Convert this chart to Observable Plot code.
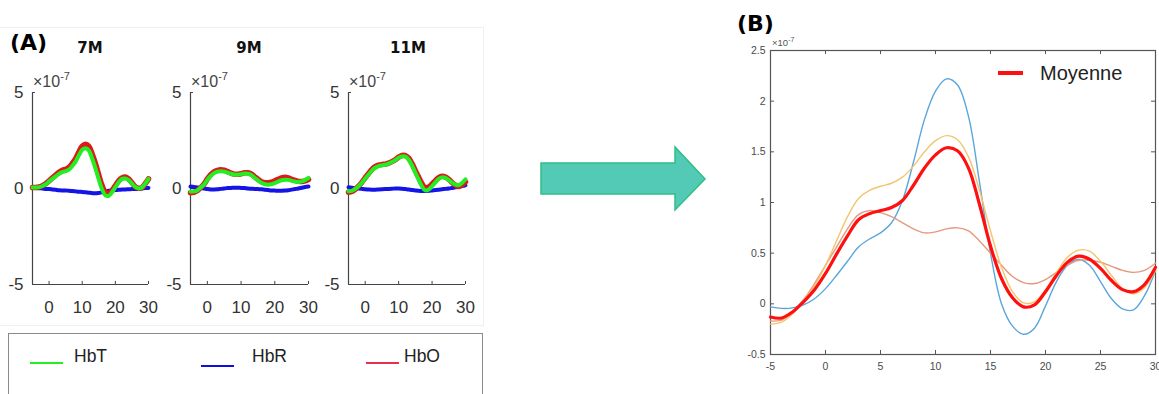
<!DOCTYPE html>
<html>
<head>
<meta charset="utf-8">
<script src="https://cdn.jsdelivr.net/npm/d3@7"></script>
<script src="https://cdn.jsdelivr.net/npm/@observablehq/plot@0.6"></script>
<style>
  html, body { margin: 0; padding: 0; background: #fff; }
  #root { position: relative; width: 1159px; height: 394px; overflow: hidden; background: #fff; font-family: "Liberation Sans", Arial, sans-serif; }
  .abs { position: absolute; }
  .lbl { position: absolute; line-height: 1; white-space: nowrap; }
</style>
</head>
<body>
<div id="root"></div>
<script>
// ---------- shared time grid (s) ----------
const time = [-5,-4,-3,-2,-1,0,1,2,3,4,5,6,7,8,9,10,11,12,13,14,15,16,17,18,19,20,21,22,23,24,25,26,27,28,29,30];

// ---------- Panel A (×1e-7) ----------
const panelTitles = ["7M", "9M", "11M"];
const legendA = ["HbT", "HbR", "HbO"];
const xTicksA = [0, 10, 20, 30];
const yTicksA = [-5, 0, 5];

const hbo7M = [0.05,0.05,0.08,0.15,0.25,0.4,0.55,0.7,0.85,0.95,1.0,1.1,1.3,1.55,1.9,2.2,2.3,2.2,1.8,1.3,0.7,0.15,-0.2,-0.25,-0.1,0.15,0.4,0.55,0.6,0.5,0.3,0.1,0.02,0.05,0.25,0.5];
const hbt7M = [0.05,0.05,0.07,0.13,0.22,0.37,0.5,0.63,0.76,0.85,0.9,0.98,1.17,1.4,1.73,2.02,2.1,1.98,1.56,1.05,0.47,-0.05,-0.36,-0.38,-0.2,0.07,0.33,0.5,0.52,0.44,0.26,0.08,0.0,0.05,0.25,0.5];
const hbr7M = [0.02,0.02,0.01,0.0,-0.02,-0.03,-0.05,-0.07,-0.09,-0.1,-0.1,-0.12,-0.13,-0.15,-0.17,-0.18,-0.2,-0.22,-0.24,-0.25,-0.23,-0.2,-0.16,-0.12,-0.1,-0.08,-0.07,-0.05,-0.05,-0.04,-0.03,-0.02,-0.02,0.0,0.02,0.03];

const hbo9M = [-0.22,-0.2,-0.12,0.05,0.22,0.5,0.72,0.87,0.95,0.98,0.95,0.88,0.8,0.75,0.74,0.77,0.82,0.82,0.76,0.62,0.48,0.36,0.3,0.3,0.33,0.4,0.48,0.55,0.58,0.55,0.48,0.42,0.37,0.36,0.4,0.47];
const hbt9M = [-0.15,-0.15,-0.1,0.05,0.2,0.45,0.65,0.8,0.88,0.9,0.88,0.83,0.77,0.73,0.72,0.74,0.78,0.77,0.7,0.56,0.42,0.3,0.22,0.2,0.22,0.28,0.36,0.43,0.46,0.45,0.4,0.36,0.34,0.37,0.45,0.55];
const hbr9M = [0.1,0.08,0.05,0.02,0.0,-0.03,-0.05,-0.05,-0.04,-0.02,0.0,0.02,0.03,0.04,0.04,0.03,0.02,0.0,-0.01,-0.02,-0.03,-0.04,-0.06,-0.08,-0.1,-0.11,-0.12,-0.12,-0.11,-0.09,-0.06,-0.03,0.0,0.04,0.08,0.1];

const hbo11M = [-0.2,-0.16,-0.04,0.12,0.32,0.56,0.78,0.99,1.14,1.22,1.25,1.27,1.32,1.4,1.5,1.63,1.72,1.72,1.58,1.3,0.93,0.58,0.24,0.04,0.08,0.23,0.41,0.57,0.64,0.6,0.48,0.31,0.17,0.1,0.2,0.35];
const hbt11M = [-0.14,-0.12,-0.02,0.12,0.3,0.52,0.73,0.93,1.08,1.17,1.21,1.24,1.3,1.38,1.48,1.6,1.67,1.66,1.5,1.2,0.82,0.45,0.1,-0.1,-0.05,0.12,0.32,0.5,0.58,0.55,0.44,0.3,0.2,0.18,0.3,0.48];
const hbr11M = [0.06,0.04,0.02,0.0,-0.02,-0.04,-0.05,-0.06,-0.06,-0.05,-0.04,-0.03,-0.02,-0.01,0.0,0.0,-0.01,-0.03,-0.05,-0.08,-0.1,-0.12,-0.13,-0.13,-0.12,-0.1,-0.08,-0.06,-0.04,-0.02,0.0,0.03,0.06,0.1,0.13,0.17];

// ---------- Panel B (×1e-7) ----------
const xTicksB = [-5, 0, 5, 10, 15, 20, 25, 30];
const yTicksB = [-0.5, 0, 0.5, 1, 1.5, 2, 2.5];
const legendB = "Moyenne";
const blueB   = [-0.03,-0.045,-0.04,-0.01,0.05,0.15,0.28,0.42,0.56,0.64,0.7,0.8,1.02,1.4,1.82,2.1,2.22,2.16,1.85,1.2,0.5,0.0,-0.22,-0.3,-0.24,-0.02,0.22,0.38,0.44,0.38,0.22,0.05,-0.05,-0.06,0.08,0.33];
const orangeB = [-0.17,-0.16,-0.08,0.04,0.2,0.38,0.56,0.74,0.88,0.92,0.9,0.86,0.8,0.74,0.7,0.71,0.74,0.75,0.72,0.62,0.5,0.38,0.27,0.21,0.2,0.24,0.31,0.38,0.43,0.43,0.41,0.37,0.33,0.31,0.33,0.4];
const yellowB = [-0.2,-0.18,-0.1,0.03,0.18,0.38,0.62,0.86,1.04,1.12,1.16,1.19,1.25,1.36,1.5,1.61,1.66,1.62,1.45,1.12,0.72,0.36,0.12,0.01,0.02,0.14,0.31,0.46,0.53,0.52,0.42,0.28,0.15,0.1,0.16,0.33];
const meanB   = [-0.13,-0.14,-0.08,0.02,0.14,0.3,0.49,0.67,0.83,0.89,0.92,0.95,1.02,1.17,1.34,1.47,1.54,1.51,1.34,0.98,0.57,0.25,0.06,-0.03,-0.01,0.12,0.28,0.41,0.47,0.44,0.35,0.23,0.14,0.12,0.19,0.36];

// ---------- helpers ----------
const rows = arr => time.map((t, i) => ({t, v: arr[i]}));
const root = document.getElementById("root");
function place(el, left, top) {
  const w = document.createElement("div");
  w.className = "abs";
  w.style.left = left + "px";
  w.style.top = top + "px";
  w.appendChild(el);
  root.appendChild(w);
  return w;
}
function label(html, css) {
  const d = document.createElement("div");
  d.className = "lbl";
  d.innerHTML = html;
  Object.assign(d.style, css);
  root.appendChild(d);
  return d;
}

// faint panel-A frame
label("", {left: "-2px", top: "27px", width: "484px", height: "297px", border: "1px solid #efefef"});

// ---------- Panel A subplots ----------
const colA = {hbt: "#22ee22", hbr: "#1414e6", hbo: "#dd1a1a"};
function subplot(hbo, hbr, hbt, frameW) {
  return Plot.plot({
    width: 40 + frameW + 12, height: 284,
    marginLeft: 40, marginRight: 12, marginTop: 52, marginBottom: 40,
    style: {overflow: "visible", background: "transparent", fontFamily: "'Liberation Sans', Arial, sans-serif", fontSize: "17px", color: "#333"},
    x: {domain: [-5, 30], ticks: xTicksA, tickSize: 0, tickPadding: 16, tickFormat: d => String(d), label: null},
    y: {domain: [-5, 5], ticks: yTicksA, tickSize: 0, tickPadding: 9, tickFormat: d => String(d), label: null},
    marks: [
      Plot.ruleX([-5], {stroke: "#444", strokeWidth: 1.2}),
      Plot.ruleY([-5], {stroke: "#444", strokeWidth: 1.2}),
      Plot.ruleX(xTicksA, {x: d => d, y1: -5, y2: -4.84, stroke: "#444"}),
      Plot.ruleY(yTicksA, {y: d => d, x1: -5, x2: -4.1, stroke: "#444"}),
      Plot.line(rows(hbr), {x: "t", y: "v", stroke: colA.hbr, strokeWidth: 4, curve: "catmull-rom"}),
      Plot.line(rows(hbo), {x: "t", y: "v", stroke: colA.hbo, strokeWidth: 5.5, curve: "catmull-rom"}),
      Plot.line(rows(hbt), {x: "t", y: "v", stroke: colA.hbt, strokeWidth: 4, curve: "catmull-rom"})
    ]
  });
}
const subs = [
  {hbo: hbo7M, hbr: hbr7M, hbt: hbt7M, axis: 32, w: 116, title: panelTitles[0], tc: 90},
  {hbo: hbo9M, hbr: hbr9M, hbt: hbt9M, axis: 190, w: 118, title: panelTitles[1], tc: 249},
  {hbo: hbo11M, hbr: hbr11M, hbt: hbt11M, axis: 348, w: 117, title: panelTitles[2], tc: 408}
];
subs.forEach(s => {
  place(subplot(s.hbo, s.hbr, s.hbt, s.w), s.axis - 40, 40);
  label(s.title, {left: (s.tc - 50) + "px", top: "41px", width: "100px", textAlign: "center", fontFamily: "'DejaVu Sans', sans-serif", fontWeight: "bold", fontSize: "15px", color: "#111"});
  label('×10<span style="font-size:11px;position:relative;top:-7px">-7</span>', {left: (s.axis + 1) + "px", top: "74px", fontSize: "16px", color: "#444"});
});

label("(A)", {left: "10px", top: "32px", fontFamily: "'DejaVu Sans', sans-serif", fontWeight: "bold", fontSize: "22px", color: "#000"});

// Panel A legend
label("", {left: "8px", top: "333px", width: "475px", height: "80px", border: "1.5px solid #8a8a8a", boxSizing: "border-box"});
const legItems = [
  {name: legendA[0], color: "#22ee22", x0: 30, ly: 363, tx: 74},
  {name: legendA[1], color: "#1010dd", x0: 201, ly: 366, tx: 252},
  {name: legendA[2], color: "#e8304a", x0: 366, ly: 363, tx: 404}
];
legItems.forEach(it => {
  label("", {left: it.x0 + "px", top: (it.ly - 1) + "px", width: "33px", height: "2px", background: it.color});
  label(it.name, {left: it.tx + "px", top: "348px", fontSize: "17.5px", color: "#222"});
});

// ---------- Arrow ----------
const ns = "http://www.w3.org/2000/svg";
const arrowSvg = document.createElementNS(ns, "svg");
arrowSvg.setAttribute("width", "200");
arrowSvg.setAttribute("height", "100");
arrowSvg.style.position = "absolute";
arrowSvg.style.left = "520px";
arrowSvg.style.top = "130px";
const poly = document.createElementNS(ns, "polygon");
poly.setAttribute("points", "21,33 155,33 155,17 185,49 155,80 155,64 21,64");
poly.setAttribute("fill", "#53cab6");
poly.setAttribute("stroke", "#2fbf86");
poly.setAttribute("stroke-width", "1.5");
arrowSvg.appendChild(poly);
root.appendChild(arrowSvg);

// ---------- Panel B ----------
const plotB = Plot.plot({
  width: 439, height: 394,
  marginLeft: 50, marginRight: 4, marginTop: 50, marginBottom: 40,
  style: {overflow: "visible", background: "transparent", fontFamily: "'Liberation Sans', Arial, sans-serif", fontSize: "10.5px", color: "#4a4a4a"},
  x: {domain: [-5, 30], ticks: xTicksB, tickSize: 0, tickPadding: 8, tickFormat: d => String(d), label: null},
  y: {domain: [-0.5, 2.5], ticks: yTicksB, tickSize: 0, tickPadding: 5, tickFormat: d => String(d), label: null},
  marks: [
    Plot.frame({stroke: "#555", strokeWidth: 1.2}),
    Plot.ruleX(xTicksB, {x: d => d, y1: -0.5, y2: -0.46, stroke: "#555"}),
    Plot.ruleX(xTicksB, {x: d => d, y1: 2.5, y2: 2.46, stroke: "#555"}),
    Plot.ruleY(yTicksB, {y: d => d, x1: -5, x2: -4.64, stroke: "#555"}),
    Plot.ruleY(yTicksB, {y: d => d, x1: 30, x2: 29.64, stroke: "#555"}),
    Plot.line(rows(blueB), {x: "t", y: "v", stroke: "#5aa6dc", strokeWidth: 1.4, curve: "catmull-rom"}),
    Plot.line(rows(orangeB), {x: "t", y: "v", stroke: "#e59a7e", strokeWidth: 1.4, curve: "catmull-rom"}),
    Plot.line(rows(yellowB), {x: "t", y: "v", stroke: "#f3c56e", strokeWidth: 1.4, curve: "catmull-rom"}),
    Plot.line(rows(meanB), {x: "t", y: "v", stroke: "#ff1010", strokeWidth: 3.2, curve: "catmull-rom"})
  ]
});
place(plotB, 720, 0);

label("(B)", {left: "737px", top: "13px", fontFamily: "'DejaVu Sans', sans-serif", fontWeight: "bold", fontSize: "22px", color: "#000"});
label('×10<span style="font-size:7px;position:relative;top:-4px">-7</span>', {left: "772px", top: "38px", fontSize: "9.5px", color: "#555"});
label("", {left: "998px", top: "71px", width: "25px", height: "4px", background: "#ff1010"});
label(legendB, {left: "1040px", top: "63px", fontSize: "20px", color: "#222"});
</script>
</body>
</html>
